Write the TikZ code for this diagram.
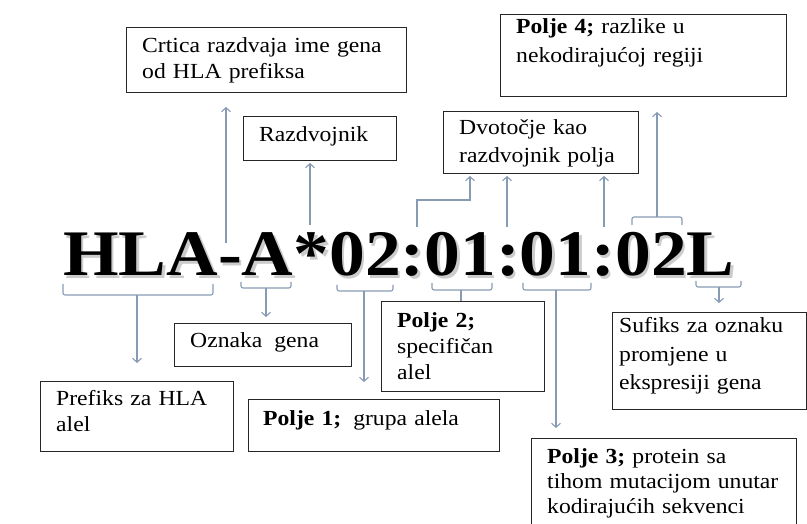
\documentclass[tikz,border=0pt]{standalone}
\usepackage{fontspec}
\setmainfont{Liberation Serif}[FakeStretch=1.1]
\usetikzlibrary{arrows.meta}
\definecolor{conncol}{RGB}{135,155,180}
\begin{document}
\begin{tikzpicture}[x=1pt,y=-1pt,
  box/.style={draw=black!85, line width=1.1pt, inner sep=0pt, anchor=north west},
  lbl/.style={anchor=base west, inner sep=0pt, align=left, text width=#1},
  fs/.style={font=\fontsize{21.5}{#1}\selectfont},
  conn/.style={draw=conncol, line width=1.1pt},
  arr/.style={conn, -{Straight Barb[length=4pt,width=9pt]}},
  brace/.style={conn, rounded corners=2pt},
  big/.style={anchor=base west, inner sep=0pt, font=\fontsize{65}{70}\selectfont\bfseries}
]
\useasboundingbox (0,0) rectangle (807,524);

% big code with drop shadow
\node[big, text=black] (code) at (63,276) {\rlap{\hspace{2.5pt}\raisebox{-2.5pt}{\textcolor{gray!40}{HLA-A*02:01:01:02L}}}HLA-A*02:01:01:02L};

% boxes
\node[box, minimum width=280pt, minimum height=65pt] (crt) at (126,27) {};
\node[box, minimum width=153pt, minimum height=44pt] (raz) at (243,116) {};
\node[box, minimum width=286pt, minimum height=82pt] (p4) at (500,14) {};
\node[box, minimum width=195pt, minimum height=62pt] (dvo) at (443,111) {};
\node[box, minimum width=177pt, minimum height=43pt] (ozn) at (174,323) {};
\node[box, minimum width=163pt, minimum height=90pt] (p2) at (381,301) {};
\node[box, minimum width=193pt, minimum height=70pt] (pre) at (40,381) {};
\node[box, minimum width=251pt, minimum height=52pt] (p1) at (248,399) {};
\node[box, minimum width=194pt, minimum height=97pt] (suf) at (612,312) {};
\node[box, minimum width=265pt, minimum height=100pt] (p3) at (531,438) {};

% texts
\node[lbl=260pt, fs=26] (crtT) at (142,53) {Crtica razdvaja ime gena\\od HLA prefiksa};
\node[lbl=130pt, fs=26] (razT) at (259,142) {Razdvojnik};
\node[lbl=265pt, fs=29] (p4T) at (516,34) {\textbf{Polje 4;} razlike u\\nekodirajućoj regiji};
\node[lbl=175pt, fs=28] (dvoT) at (459,135) {Dvotočje kao\\razdvojnik polja};
\node[lbl=160pt, fs=26] (oznT) at (190,348) {Oznaka\hspace{12pt}gena};
\node[lbl=145pt, fs=26] (p2T) at (397,327) {\textbf{Polje 2;}\\specifičan\\alel};
\node[lbl=175pt, fs=26] (preT) at (56,405) {Prefiks za HLA\\alel};
\node[lbl=230pt, fs=26] (p1T) at (263,425) {\textbf{Polje 1;}\hspace{12pt}grupa alela};
\node[lbl=185pt, fs=29] (sufT) at (619,332) {Sufiks za oznaku\\promjene u\\ekspresiji gena};
\node[lbl=250pt, fs=25] (p3T) at (547,463) {\textbf{Polje 3;} protein sa\\tihom mutacijom unutar\\kodirajućih sekvenci};

% coordinates for connector ends
\coordinate (crtA) at (226,243); \coordinate (crtB) at (226,107);
\coordinate (razA) at (310,225); \coordinate (razB) at (310,163);
\coordinate (dvoA) at (417,227); \coordinate (dvoM) at (470,200); \coordinate (dvoB) at (470,176);
\coordinate (dvo2A) at (507,227); \coordinate (dvo2B) at (507,176);
\coordinate (dvo3A) at (604,227); \coordinate (dvo3B) at (604,176);

\coordinate (bHa) at (63,284); \coordinate (bHb) at (213,284); \coordinate (bHm) at (137,295); \coordinate (bHe) at (137,363);
\coordinate (bAa) at (241,282); \coordinate (bAb) at (291,282); \coordinate (bAm) at (266,288); \coordinate (bAe) at (266,317);
\coordinate (b1a) at (337,285); \coordinate (b1b) at (393,285); \coordinate (b1m) at (364,291); \coordinate (b1e) at (364,382);
\coordinate (b2a) at (432,283); \coordinate (b2b) at (492,283); \coordinate (b2m) at (461,290);
\coordinate (b3a) at (523,283); \coordinate (b3b) at (591,283); \coordinate (b3m) at (556,290); \coordinate (b3e) at (556,428);
\coordinate (bLa) at (696,281); \coordinate (bLb) at (741,281); \coordinate (bLm) at (719,287); \coordinate (bLe) at (719,303);
\coordinate (b4a) at (632,225); \coordinate (b4b) at (682,225); \coordinate (b4m) at (657,217); \coordinate (b4e) at (657,112);

% up arrows
\draw[arr] (crtA) -- (crtB);
\draw[arr] (razA) -- (razB);
\draw[arr] (dvoA) |- (dvoM) -- (dvoB);
\draw[arr] (dvo2A) -- (dvo2B);
\draw[arr] (dvo3A) -- (dvo3B);

% brackets
\draw[brace] (bHa) |- (bHm) -| (bHb);
\draw[arr] (bHm) -- (bHe);
\draw[brace] (bAa) |- (bAm) -| (bAb);
\draw[arr] (bAm) -- (bAe);
\draw[brace] (b1a) |- (b1m) -| (b1b);
\draw[arr] (b1m) -- (b1e);
\draw[brace] (b2a) |- (b2m) -| (b2b);
\draw[conn] (b2m) -- (b2m |- p2.north);
\draw[brace] (b3a) |- (b3m) -| (b3b);
\draw[arr] (b3m) -- (b3e);
\draw[brace] (bLa) |- (bLm) -| (bLb);
\draw[arr] (bLm) -- (bLe);
\draw[brace] (b4a) |- (b4m) -| (b4b);
\draw[arr] (b4m) -- (b4e);
\end{tikzpicture}
\end{document}
